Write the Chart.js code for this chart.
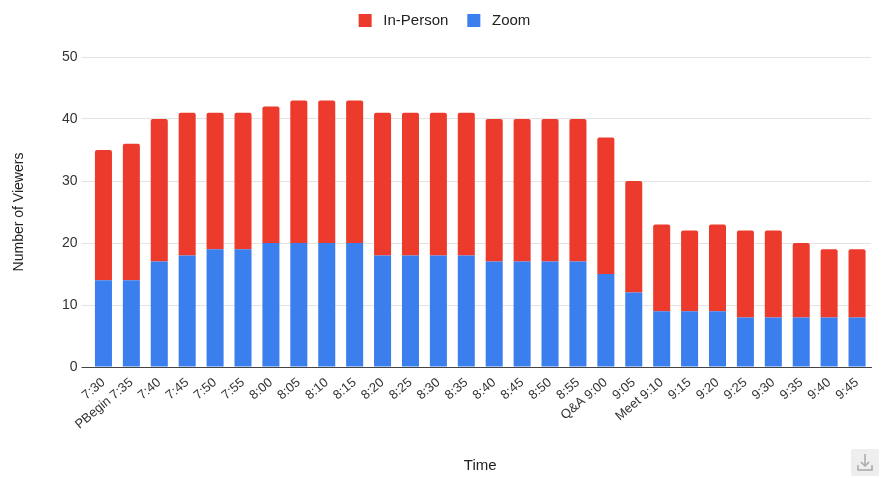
<!DOCTYPE html>
<html>
<head>
<meta charset="utf-8">
<script src="https://cdn.jsdelivr.net/npm/chart.js@4"></script>
<style>
  html, body { margin: 0; padding: 0; background: #fff; }
  #wrap { position: relative; width: 895px; height: 478px; }
  #dl { position: absolute; left: 851px; top: 449px; width: 28px; height: 27px; background: #eeeeee; border-radius: 2px; }
</style>
</head>
<body>
<div id="wrap">
  <canvas id="c" width="895" height="478"></canvas>
  <div id="dl">
    <svg width="28" height="27" viewBox="0 0 28 27">
      <line x1="14" y1="5" x2="14" y2="17" stroke="#a8a8a8" stroke-width="1.5"/>
      <polyline points="10,13 14,17 18,13" fill="none" stroke="#a8a8a8" stroke-width="1.5"/>
      <polyline points="7,16 7,21 21,21 21,16" fill="none" stroke="#a8a8a8" stroke-width="1.5"/>
    </svg>
  </div>
</div>
<script>
const categories = ["7:30","PBegin 7:35","7:40","7:45","7:50","7:55","8:00","8:05","8:10","8:15","8:20","8:25","8:30","8:35","8:40","8:45","8:50","8:55","Q&A 9:00","9:05","Meet 9:10","9:15","9:20","9:25","9:30","9:35","9:40","9:45"];
const zoomViewers = [14,14,17,18,19,19,20,20,20,20,18,18,18,18,17,17,17,17,15,12,9,9,9,8,8,8,8,8];
const inPersonViewers = [21,22,23,23,22,22,22,23,23,23,23,23,23,23,23,23,23,23,22,18,14,13,14,14,14,12,11,11];
const yTicks = [0,10,20,30,40,50];

const FONT = "Arial, 'Liberation Sans', sans-serif";

const legendTweakPlugin = {
  id: 'legendTweak',
  beforeInit(chart) {
    const lg = chart.legend;
    const origFit = lg.fit;
    lg.fit = function () {
      origFit.call(this);
      this.height = 57;
    };
    const origDraw = lg.draw;
    lg.draw = function () {
      const ctx = this.ctx;
      ctx.save();
      ctx.translate(9, -6);
      origDraw.call(this);
      ctx.restore();
    };
  }
};

new Chart(document.getElementById('c'), {
  type: 'bar',
  data: {
    labels: categories,
    datasets: [
      { label: 'Zoom', data: zoomViewers, backgroundColor: '#3B7EEE' },
      { label: 'In-Person', data: inPersonViewers, backgroundColor: '#EC3B2D',
        borderRadius: { topLeft: 2, topRight: 2 }, borderSkipped: 'bottom' }
    ]
  },
  options: {
    responsive: false,
    animation: false,
    layout: { padding: { left: 0, right: 24, top: 0, bottom: 0 } },
    datasets: { bar: { barPercentage: 0.61, categoryPercentage: 1.0 } },
    plugins: {
      legend: {
        position: 'top',
        reverse: true,
        labels: {
          boxWidth: 13, boxHeight: 13, padding: 19,
          color: '#222', font: { family: FONT, size: 15 },
          generateLabels(chart) {
            const items = Chart.defaults.plugins.legend.labels.generateLabels(chart);
            items.forEach(it => { it.text = ' ' + it.text; });
            return items;
          }
        }
      },
      tooltip: { enabled: false }
    },
    scales: {
      x: {
        stacked: true,
        grid: { display: false, drawTicks: false },
        border: { display: true, color: '#444', width: 1 },
        ticks: {
          autoSkip: false, maxRotation: 40, minRotation: 40, padding: 8,
          color: '#333', font: { family: FONT, size: 13 }
        },
        title: { display: true, text: 'Time', color: '#222', font: { family: FONT, size: 15 }, padding: { top: 4, bottom: 3 } },
        afterFit(scale) { scale.height = 111; }
      },
      y: {
        stacked: true,
        min: 0, max: 50,
        afterBuildTicks(scale) { scale.ticks = yTicks.map(v => ({ value: v })); },
        grid: {
          color: (ctx) => ctx.tick && ctx.tick.value === 0 ? '#444' : '#e3e3e3',
          drawTicks: true, tickLength: 8
        },
        border: { display: false },
        ticks: { padding: 4, color: '#333', font: { family: FONT, size: 14 } },
        title: { display: true, text: 'Number of Viewers', color: '#222', font: { family: FONT, size: 14 }, padding: { top: 11, bottom: 4 } },
        afterFit(scale) { scale.width = 89.5; }
      }
    }
  },
  plugins: [legendTweakPlugin]
});
</script>
</body>
</html>
